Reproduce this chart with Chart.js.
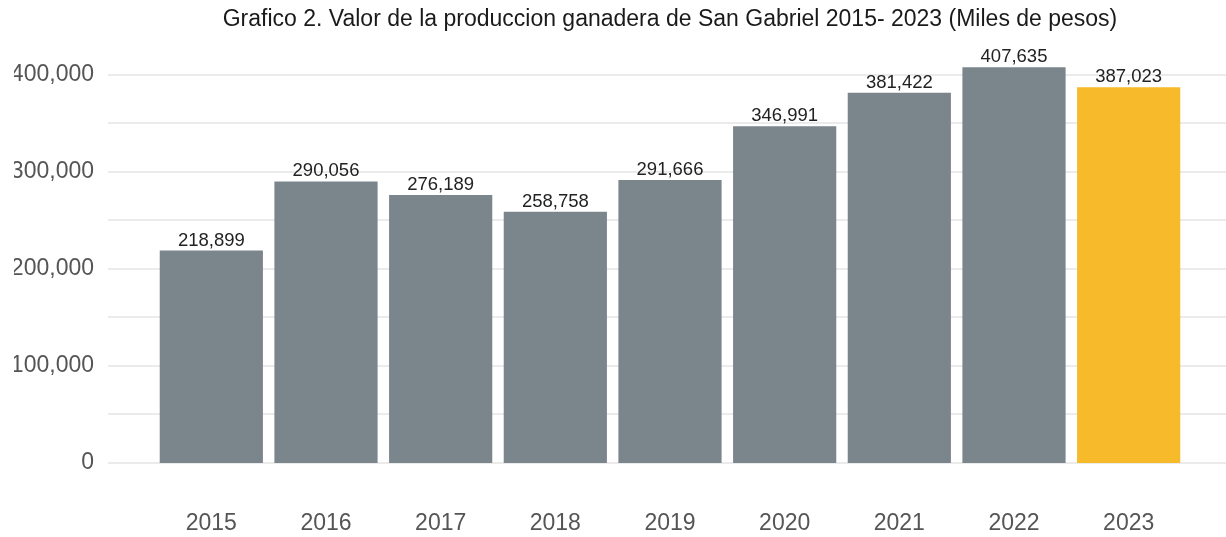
<!DOCTYPE html>
<html>
<head>
<meta charset="utf-8">
<title>Grafico 2</title>
<script src="https://cdn.jsdelivr.net/npm/chart.js@4.4.1/dist/chart.umd.min.js"></script>
<style>
  html, body { margin: 0; padding: 0; background: #fff; }
  #wrap { width: 1226px; height: 537px; position: relative; }
</style>
</head>
<body>
<div id="wrap"><canvas id="chart"></canvas></div>
<script>
// ===== Data =====
const years = ['2015', '2016', '2017', '2018', '2019', '2020', '2021', '2022', '2023'];
const values = [218899, 290056, 276189, 258758, 291666, 346991, 381422, 407635, 387023];
const yTicks = [0, 50000, 100000, 150000, 200000, 250000, 300000, 350000, 400000];
const yLabelStep = 100000;
const titleText = 'Grafico 2. Valor de la produccion ganadera de San Gabriel 2015- 2023 (Miles de pesos)';

const GRAY = '#7b868c';
const YELLOW = '#f7ba2a';
const GRID = '#ebebeb';
const FONT = '"Liberation Sans", Arial, sans-serif';

const fmt = v => v.toLocaleString('en-US');

// ===== Plugins =====
// horizontal grid drawn wider than the plot area (like the original)
const wideGrid = {
  id: 'wideGrid',
  beforeDatasetsDraw(chart) {
    const { ctx, scales: { y }, chartArea } = chart;
    ctx.save();
    ctx.strokeStyle = GRID;
    ctx.lineWidth = 2;
    yTicks.forEach(v => {
      const py = Math.round(y.getPixelForValue(v));
      ctx.beginPath();
      ctx.moveTo(chartArea.left - 46, py);
      ctx.lineTo(chart.width, py);
      ctx.stroke();
    });
    ctx.restore();
  }
};

// value labels on top of the bars
const barLabels = {
  id: 'barLabels',
  afterDatasetsDraw(chart) {
    const { ctx } = chart;
    const meta = chart.getDatasetMeta(0);
    ctx.save();
    ctx.font = '18.5px ' + FONT;
    ctx.fillStyle = '#222';
    ctx.textAlign = 'center';
    ctx.textBaseline = 'alphabetic';
    meta.data.forEach((bar, i) => {
      ctx.fillText(fmt(values[i]), bar.x, bar.y - 5);
    });
    ctx.restore();
  }
};

// title centred over the plot area
const plotTitle = {
  id: 'plotTitle',
  afterDraw(chart) {
    const { ctx, chartArea } = chart;
    ctx.save();
    ctx.font = '23px ' + FONT;
    ctx.fillStyle = '#1a1a1a';
    ctx.textAlign = 'center';
    ctx.textBaseline = 'middle';
    ctx.fillText(titleText, (chartArea.left + chartArea.right) / 2, 20);
    ctx.restore();
  }
};

// ===== Chart =====
Chart.defaults.font.family = FONT;

new Chart(document.getElementById('chart'), {
  type: 'bar',
  data: {
    labels: years,
    datasets: [{
      data: values,
      backgroundColor: years.map((_, i) => i === years.length - 1 ? YELLOW : GRAY),
      barPercentage: 0.9,
      categoryPercentage: 1.0,
      borderWidth: 0,
      clip: false
    }]
  },
  options: {
    responsive: true,
    maintainAspectRatio: false,
    animation: false,
    layout: { autoPadding: false, padding: { left: 14, right: 40, top: 49.6, bottom: 0 } },
    plugins: {
      legend: { display: false },
      tooltip: { enabled: false },
      title: { display: false }
    },
    scales: {
      x: {
        grid: { display: false, drawTicks: false },
        border: { display: false },
        afterFit: s => { s.height = 74; },
        ticks: { color: '#555', font: { size: 23 }, padding: 47 }
      },
      y: {
        min: 0,
        max: 401000,
        grid: { display: false, drawTicks: false },
        border: { display: false },
        afterBuildTicks: s => { s.ticks = yTicks.map(v => ({ value: v })); },
        afterFit: s => { s.width = 140; },
        ticks: {
          color: '#555',
          font: { size: 23 },
          padding: 60,
          autoSkip: false,
          callback: v => v % yLabelStep === 0 ? fmt(v) : ''
        }
      }
    }
  },
  plugins: [wideGrid, barLabels, plotTitle]
});
</script>
</body>
</html>
